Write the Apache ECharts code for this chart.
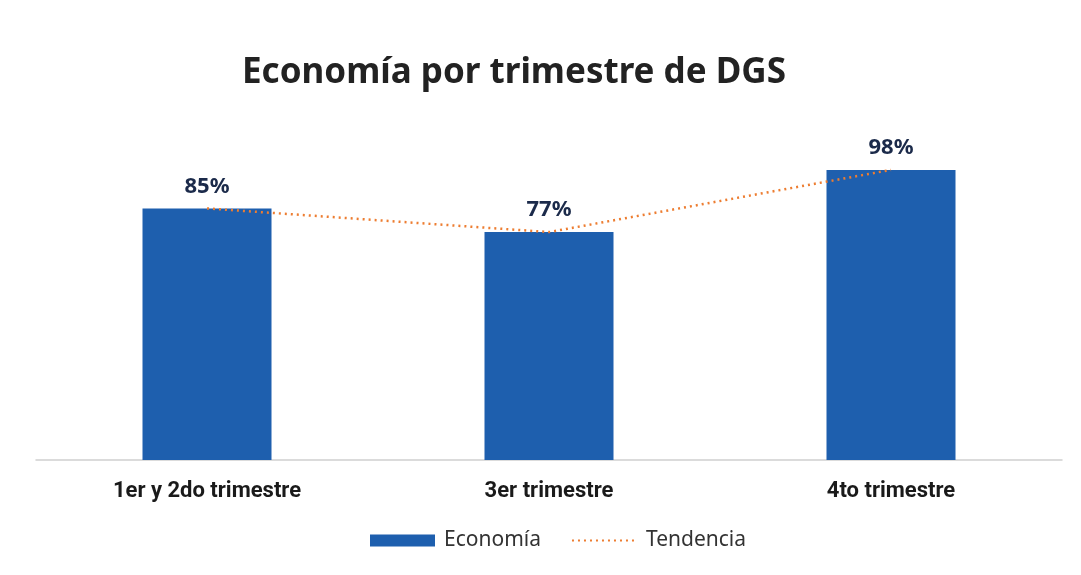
<!DOCTYPE html>
<html>
<head>
<meta charset="utf-8">
<script src="https://cdn.jsdelivr.net/npm/echarts@6/dist/echarts.min.js"></script>
<style>
  html, body { margin: 0; padding: 0; background: #fff; }
  #main { width: 1081px; height: 575px; }
</style>
</head>
<body>
<div id="main"></div>
<script>
// datos del grafico
const categories = ['1er y 2do trimestre', '3er trimestre', '4to trimestre']
const economia = [85, 77, 98]
const tendencia = [85, 77, 98]

const chart = echarts.init(document.getElementById('main'))

const option = {
  backgroundColor: '#ffffff',
  title: {
    text: 'Economía por trimestre de DGS',
    left: 237,
    top: 51,
    textStyle: {
      fontFamily: 'Noto Sans',
      fontWeight: 'bold',
      fontSize: 35,
      color: '#222222'
    }
  },
  legend: {
    bottom: 19,
    left: 365,
    itemWidth: 65,
    itemHeight: 12,
    itemGap: 30,
    textStyle: {
      fontFamily: 'Noto Sans',
      fontSize: 21,
      color: '#333333',
      padding: [0, 0, 0, 4]
    },
    data: [
      { name: 'Economía', icon: 'rect' },
      { name: 'Tendencia', itemStyle: { opacity: 0 } }
    ]
  },
  grid: {
    left: 36,
    right: 19,
    top: 164,
    bottom: 115
  },
  xAxis: {
    type: 'category',
    data: categories,
    axisLine: { lineStyle: { color: '#d0d0d0', width: 1.5 } },
    axisTick: { show: false },
    axisLabel: {
      margin: 20,
      fontFamily: 'Roboto',
      fontWeight: 'bold',
      fontSize: 22,
      color: '#1a1a1a'
    }
  },
  yAxis: {
    type: 'value',
    min: 0,
    max: 100,
    show: false
  },
  series: [
    {
      name: 'Economía',
      type: 'bar',
      data: economia,
      barWidth: 129,
      itemStyle: { color: '#1e5fae' },
      label: {
        show: true,
        position: 'top',
        distance: 11,
        formatter: '{c}%',
        fontFamily: 'Noto Sans',
        fontWeight: 'bold',
        fontSize: 22,
        color: '#1b2a4a'
      }
    },
    {
      name: 'Tendencia',
      type: 'line',
      data: tendencia,
      symbol: 'none',
      lineStyle: { color: '#ed7d31', width: 2.5, type: [2, 4] },
      itemStyle: { color: '#ed7d31' },
      z: 5
    }
  ]
}

chart.setOption(option)
</script>
</body>
</html>
